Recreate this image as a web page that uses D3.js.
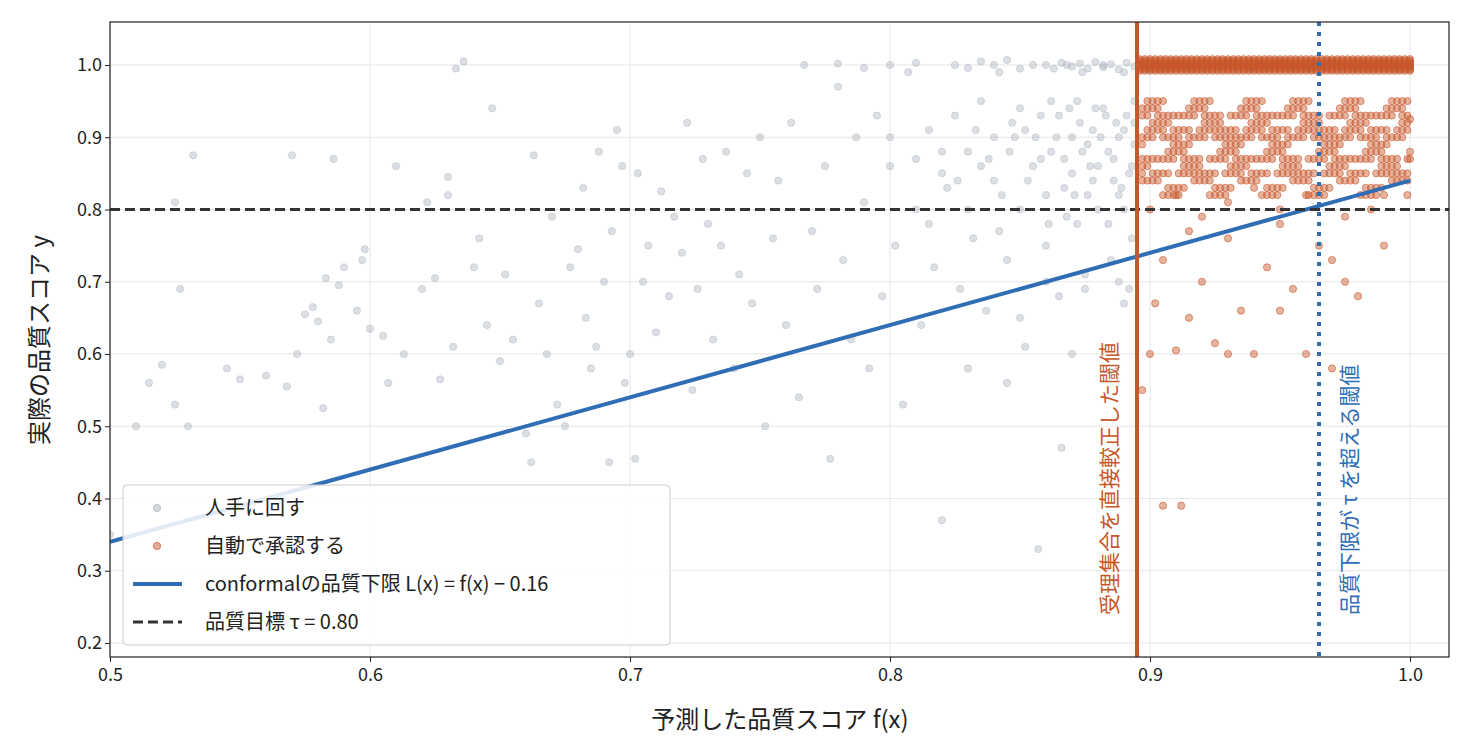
<!DOCTYPE html>
<html><head><meta charset="utf-8">
<script src="https://cdn.jsdelivr.net/npm/d3@7"></script>
<style>body{margin:0;background:#fff}svg{font-family:"Noto Sans CJK JP","Noto Sans",sans-serif}</style>
</head><body><svg id="c" width="1470" height="756"></svg>
<script>
const xTicks=[0.5,0.6,0.7,0.8,0.9,1.0];
const yTicks=[0.2,0.3,0.4,0.5,0.6,0.7,0.8,0.9,1.0];
const tau=0.80, offset=0.16, acceptThreshold=0.895, boundThreshold=0.965;
const manualPts=[[0.5,0.35],[0.51,0.5],[0.515,0.56],[0.52,0.585],[0.525,0.53],[0.527,0.69],[0.525,0.81],[0.53,0.5],[0.532,0.875],[0.545,0.58],[0.55,0.565],[0.56,0.57],[0.568,0.555],[0.57,0.875],[0.572,0.6],[0.575,0.655],[0.578,0.665],[0.58,0.645],[0.582,0.525],[0.583,0.705],[0.585,0.62],[0.586,0.87],[0.588,0.695],[0.59,0.72],[0.595,0.66],[0.597,0.73],[0.598,0.745],[0.6,0.635],[0.605,0.625],[0.607,0.56],[0.61,0.86],[0.613,0.6],[0.62,0.69],[0.622,0.81],[0.625,0.705],[0.627,0.565],[0.63,0.82],[0.63,0.845],[0.632,0.61],[0.633,0.995],[0.636,1.005],[0.64,0.72],[0.642,0.76],[0.645,0.64],[0.647,0.94],[0.65,0.59],[0.652,0.71],[0.655,0.62],[0.66,0.49],[0.662,0.45],[0.663,0.875],[0.665,0.67],[0.668,0.6],[0.67,0.79],[0.672,0.53],[0.675,0.5],[0.677,0.72],[0.68,0.745],[0.682,0.83],[0.683,0.65],[0.685,0.58],[0.687,0.61],[0.688,0.88],[0.69,0.7],[0.692,0.45],[0.693,0.77],[0.695,0.91],[0.697,0.86],[0.698,0.56],[0.7,0.6],[0.702,0.455],[0.703,0.85],[0.705,0.7],[0.707,0.75],[0.71,0.63],[0.712,0.825],[0.715,0.68],[0.717,0.79],[0.72,0.74],[0.722,0.92],[0.724,0.55],[0.726,0.69],[0.728,0.87],[0.73,0.78],[0.732,0.62],[0.735,0.75],[0.737,0.88],[0.74,0.58],[0.742,0.71],[0.745,0.85],[0.747,0.67],[0.75,0.9],[0.752,0.5],[0.755,0.76],[0.757,0.84],[0.76,0.64],[0.762,0.92],[0.765,0.54],[0.767,1.0],[0.77,0.77],[0.772,0.69],[0.775,0.86],[0.777,0.455],[0.78,0.97],[0.782,0.73],[0.785,0.62],[0.787,0.9],[0.79,0.81],[0.792,0.58],[0.795,0.93],[0.797,0.68],[0.8,0.86],[0.802,0.75],[0.805,0.53],[0.807,0.99],[0.81,0.8],[0.812,0.64],[0.815,0.91],[0.817,0.72],[0.82,0.37],[0.822,0.83],[0.825,1.0],[0.827,0.69],[0.83,0.88],[0.832,0.76],[0.835,0.95],[0.837,0.66],[0.84,0.84],[0.842,0.99],[0.845,0.73],[0.847,0.92],[0.85,0.8],[0.852,0.61],[0.855,1.0],[0.857,0.33],[0.858,0.87],[0.86,0.75],[0.862,0.95],[0.865,0.68],[0.867,0.83],[0.868,1.0],[0.87,0.9],[0.872,0.78],[0.874,0.99],[0.875,0.71],[0.877,0.86],[0.879,0.94],[0.88,0.8],[0.882,1.0],[0.884,0.88],[0.885,0.73],[0.887,0.92],[0.889,0.83],[0.89,0.99],[0.892,0.69],[0.893,0.86],[0.894,0.95],
[0.8,0.9],[0.81,0.87],[0.815,0.78],[0.82,0.85],[0.825,0.93],[0.83,0.8],[0.835,0.86],[0.84,0.9],[0.842,0.77],[0.846,0.88],[0.85,0.94],[0.853,0.84],[0.856,0.9],[0.86,0.82],[0.862,0.88],[0.865,0.93],[0.868,0.79],[0.87,0.85],[0.872,0.95],[0.874,0.88],[0.876,0.82],[0.878,0.91],[0.88,0.86],[0.882,0.94],[0.884,0.78],[0.886,0.84],[0.888,0.9],[0.89,0.8],[0.891,0.93],[0.893,0.76],[0.894,0.89],[0.86,1.0],[0.863,0.995],[0.866,1.003],[0.87,0.998],[0.873,1.002],[0.876,0.995],[0.879,1.004],[0.882,0.997],[0.885,1.001],[0.888,0.994],[0.891,1.003],[0.894,0.998],[0.83,0.996],[0.835,1.005],[0.84,1.0],[0.845,1.007],[0.85,0.995],[0.81,1.003],[0.8,1.0],[0.79,0.996],[0.78,1.002],[0.86,0.7],[0.875,0.69],[0.888,0.7],[0.87,0.6],[0.89,0.67],[0.85,0.65],[0.866,0.47],[0.845,0.56],[0.83,0.58],
[0.852,0.91],[0.855,0.86],[0.858,0.93],[0.861,0.78],[0.864,0.9],[0.867,0.87],[0.869,0.94],[0.871,0.82],[0.873,0.92],[0.876,0.89],[0.878,0.84],[0.881,0.9],[0.883,0.93],[0.886,0.87],[0.888,0.82],[0.89,0.91],[0.892,0.85],[0.894,0.92],[0.82,0.88],[0.826,0.84],[0.833,0.91],[0.838,0.87],[0.843,0.82],[0.848,0.9],
[0.897,0.55],[0.9,0.6],[0.902,0.67],[0.905,0.39],[0.91,0.605],[0.912,0.39],[0.915,0.65],[0.92,0.7],[0.925,0.615],[0.93,0.6],[0.935,0.66],[0.94,0.6],[0.945,0.72],[0.95,0.66],[0.955,0.69],[0.96,0.6],[0.965,0.75],[0.97,0.58],[0.975,0.7],[0.98,0.68],[0.99,0.75],[0.905,0.73],[0.915,0.77],[0.93,0.76],[0.95,0.78],[0.97,0.73],[0.985,0.8],[1.0,0.87],[1.0,0.925],[1.0,0.88],[0.9,0.8],[0.91,0.82],[0.92,0.79],[0.93,0.81],[0.94,0.83],[0.95,0.8],[0.96,0.82],[0.975,0.79],[0.99,0.82]];
const orangeCloudX=[0.897,0.899,0.901,0.903,0.905,0.907,0.909,0.911,0.913,0.915,0.917,0.919,0.921,0.923,0.925,0.927,0.929,0.931,0.933,0.935,0.937,0.939,0.941,0.943,0.945,0.947,0.949,0.951,0.953,0.955,0.957,0.959,0.961,0.963,0.965,0.967,0.969,0.971,0.973,0.975,0.977,0.979,0.981,0.983,0.985,0.987,0.989,0.991,0.993,0.995,0.997,0.999];
const orangeCloudY=[0.84,0.9,0.87,0.93,0.85,0.91,0.88,0.94,0.82,0.86,0.92,0.89,0.95,0.83,0.9,0.87,0.93,0.85,0.91];
const topBandX=[0.896,0.898,0.9,0.902,0.904,0.906,0.908,0.91,0.912,0.914,0.916,0.918,0.92,0.922,0.924,0.926,0.928,0.93,0.932,0.934,0.936,0.938,0.94,0.942,0.944,0.946,0.948,0.95,0.952,0.954,0.956,0.958,0.96,0.962,0.964,0.966,0.968,0.97,0.972,0.974,0.976,0.978,0.98,0.982,0.984,0.986,0.988,0.99,0.992,0.994,0.996,0.998,1.0];
const topBandY=[0.992,0.996,1.0,1.004,1.008,0.994,0.998,1.002,1.006];
const xScale=d3.scaleLinear().domain([0.5,1.015]).range([110,1449]);
const yScale=d3.scaleLinear().domain([0.1806,1.0595]).range([657,22]);
const svg=d3.select("#c");
const gray="#a7b1bb", orange="#c8562b", blue="#2f6db4";
svg.append("g").selectAll("line").data(xTicks).join("line").attr("x1",d=>xScale(d)).attr("x2",d=>xScale(d)).attr("y1",22).attr("y2",657).attr("stroke","#e6e6e6");
svg.append("g").selectAll("line").data(yTicks).join("line").attr("y1",d=>yScale(d)).attr("y2",d=>yScale(d)).attr("x1",110).attr("x2",1449).attr("stroke","#e6e6e6");
const pts=manualPts.slice();
topBandX.forEach((x,i)=>topBandY.forEach((y,j)=>pts.push([x,topBandY[(i*4+j)%topBandY.length]])));
orangeCloudX.forEach((x,i)=>[0,1,2,3,4,5,6,7].forEach(j=>pts.push([x,orangeCloudY[(i*5+j*7)%orangeCloudY.length]])));
svg.append("clipPath").attr("id","cp").append("rect").attr("x",110).attr("y",22).attr("width",1339).attr("height",635);
const pg=svg.append("g").attr("clip-path","url(#cp)");
pg.selectAll("circle").data(pts).join("circle").attr("cx",d=>xScale(d[0])).attr("cy",d=>yScale(d[1])).attr("r",3.6)
 .attr("fill",d=>d[0]>=acceptThreshold?orange:gray).attr("fill-opacity",d=>d[0]>=acceptThreshold?0.45:0.4)
 .attr("stroke",d=>d[0]>=acceptThreshold?orange:gray).attr("stroke-opacity",d=>d[0]>=acceptThreshold?0.7:0.5).attr("stroke-width",0.8);
pg.append("line").attr("x1",xScale(0.5)).attr("x2",xScale(1.0)).attr("y1",yScale(0.5-offset)).attr("y2",yScale(1.0-offset)).attr("stroke",blue).attr("stroke-width",4);
pg.append("line").attr("x1",110).attr("x2",1449).attr("y1",yScale(tau)).attr("y2",yScale(tau)).attr("stroke","#333").attr("stroke-width",3).attr("stroke-dasharray","10,5");
pg.append("line").attr("x1",xScale(acceptThreshold)).attr("x2",xScale(acceptThreshold)).attr("y1",22).attr("y2",657).attr("stroke",orange).attr("stroke-width",4);
pg.append("line").attr("x1",xScale(boundThreshold)).attr("x2",xScale(boundThreshold)).attr("y1",22).attr("y2",657).attr("stroke",blue).attr("stroke-width",4).attr("stroke-dasharray","4,6");
svg.append("text").attr("transform",`translate(${xScale(acceptThreshold)-20},615) rotate(-90)`).attr("font-size",21).attr("fill",orange).text("受理集合を直接較正した閾値");
svg.append("text").attr("transform",`translate(${xScale(boundThreshold)+38},615) rotate(-90)`).attr("font-size",21).attr("fill",blue).text("品質下限が τ を超える閾値");
svg.append("rect").attr("x",110).attr("y",22).attr("width",1339).attr("height",635).attr("fill","none").attr("stroke","#222").attr("stroke-width",1.2);
const xa=svg.append("g").attr("transform","translate(0,657)").call(d3.axisBottom(xScale).tickValues(xTicks).tickFormat(d3.format(".1f")).tickSize(5));
const ya=svg.append("g").attr("transform","translate(110,0)").call(d3.axisLeft(yScale).tickValues(yTicks).tickFormat(d3.format(".1f")).tickSize(5));
[xa,ya].forEach(a=>{a.select(".domain").remove();a.selectAll("text").attr("font-size",18).attr("fill","#222").style("font-family","Noto Sans CJK JP");a.selectAll("line").attr("stroke","#222");});
xa.selectAll("text").attr("dy","0.9em");
svg.append("text").attr("x",780).attr("y",728).attr("text-anchor","middle").attr("font-size",24).attr("fill","#222").text("予測した品質スコア f(x)");
svg.append("text").attr("transform","translate(48,340) rotate(-90)").attr("text-anchor","middle").attr("font-size",24).attr("fill","#222").text("実際の品質スコア y");
const lg=svg.append("g");
lg.append("rect").attr("x",123).attr("y",485).attr("width",547).attr("height",160).attr("rx",4).attr("fill","#fff").attr("fill-opacity",0.85).attr("stroke","#ccc");
const items=["人手に回す","自動で承認する","conformalの品質下限 L(x) = f(x) − 0.16","品質目標  τ  = 0.80"];
items.forEach((t,i)=>{const y=508+i*38;
 if(i<2) lg.append("circle").attr("cx",157).attr("cy",y).attr("r",3.6).attr("fill",i?orange:gray).attr("fill-opacity",0.5).attr("stroke",i?orange:gray).attr("stroke-opacity",0.7);
 else lg.append("line").attr("x1",133).attr("x2",182).attr("y1",y).attr("y2",y).attr("stroke",i==2?blue:"#333").attr("stroke-width",i==2?4:3).attr("stroke-dasharray",i==3?"10,5":null);
 lg.append("text").attr("x",205).attr("y",y+7).attr("font-size",20).attr("fill","#222").text(t);});
</script></body></html>
